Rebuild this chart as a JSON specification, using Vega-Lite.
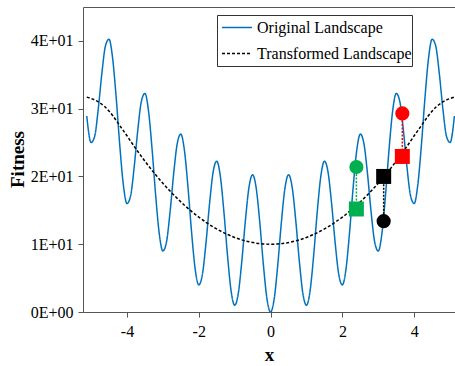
{
  "$schema": "https://vega.github.io/schema/vega-lite/v6.json",
  "width": 372,
  "height": 305,
  "autosize": "none",
  "padding": {"left": 83, "top": 7, "right": 0, "bottom": 54},
  "background": "white",
  "config": {
    "view": {"stroke": null},
    "font": "Liberation Serif",
    "axis": {
      "grid": false,
      "domainColor": "#555",
      "tickColor": "#555",
      "tickSize": 5,
      "labelFont": "Liberation Serif",
      "labelFontSize": 16,
      "labelColor": "black",
      "titleFont": "Liberation Serif",
      "titleFontSize": 19,
      "titleFontWeight": "bold",
      "titleColor": "black"
    },
    "legend": {
      "orient": "none",
      "legendX": 134,
      "legendY": 8,
      "strokeColor": "#333",
      "fillColor": "white",
      "padding": 0,
      "clipHeight": 25,
      "symbolOffset": 4,
      "symbolType": "stroke",
      "symbolSize": 900,
      "symbolStrokeWidth": 1.5,
      "labelFont": "Liberation Serif",
      "labelFontSize": 16,
      "labelColor": "black",
      "labelOffset": 4,
      "rowPadding": 1
    }
  },
  "resolve": {"axis": {"x": "independent"}},
  "datasets": {
    "lines": [
      {"x": -5.12, "y": 28.92, "series": "Original Landscape"},
      {"x": -5.1, "y": 27.92, "series": "Original Landscape"},
      {"x": -5.0, "y": 25, "series": "Original Landscape"},
      {"x": -4.9, "y": 25.92, "series": "Original Landscape"},
      {"x": -4.8, "y": 29.95, "series": "Original Landscape"},
      {"x": -4.7, "y": 35.18, "series": "Original Landscape"},
      {"x": -4.6, "y": 39.25, "series": "Original Landscape"},
      {"x": -4.5, "y": 40.25, "series": "Original Landscape"},
      {"x": -4.4, "y": 37.45, "series": "Original Landscape"},
      {"x": -4.3, "y": 31.58, "series": "Original Landscape"},
      {"x": -4.2, "y": 24.55, "series": "Original Landscape"},
      {"x": -4.1, "y": 18.72, "series": "Original Landscape"},
      {"x": -4.0, "y": 16, "series": "Original Landscape"},
      {"x": -3.9, "y": 17.12, "series": "Original Landscape"},
      {"x": -3.8, "y": 21.35, "series": "Original Landscape"},
      {"x": -3.7, "y": 26.78, "series": "Original Landscape"},
      {"x": -3.6, "y": 31.05, "series": "Original Landscape"},
      {"x": -3.5, "y": 32.25, "series": "Original Landscape"},
      {"x": -3.4, "y": 29.65, "series": "Original Landscape"},
      {"x": -3.3, "y": 23.98, "series": "Original Landscape"},
      {"x": -3.2, "y": 17.15, "series": "Original Landscape"},
      {"x": -3.1, "y": 11.52, "series": "Original Landscape"},
      {"x": -3.0, "y": 9, "series": "Original Landscape"},
      {"x": -2.9, "y": 10.32, "series": "Original Landscape"},
      {"x": -2.8, "y": 14.75, "series": "Original Landscape"},
      {"x": -2.7, "y": 20.38, "series": "Original Landscape"},
      {"x": -2.6, "y": 24.85, "series": "Original Landscape"},
      {"x": -2.5, "y": 26.25, "series": "Original Landscape"},
      {"x": -2.4, "y": 23.85, "series": "Original Landscape"},
      {"x": -2.3, "y": 18.38, "series": "Original Landscape"},
      {"x": -2.2, "y": 11.75, "series": "Original Landscape"},
      {"x": -2.1, "y": 6.32, "series": "Original Landscape"},
      {"x": -2.0, "y": 4, "series": "Original Landscape"},
      {"x": -1.9, "y": 5.52, "series": "Original Landscape"},
      {"x": -1.8, "y": 10.15, "series": "Original Landscape"},
      {"x": -1.7, "y": 15.98, "series": "Original Landscape"},
      {"x": -1.6, "y": 20.65, "series": "Original Landscape"},
      {"x": -1.5, "y": 22.25, "series": "Original Landscape"},
      {"x": -1.4, "y": 20.05, "series": "Original Landscape"},
      {"x": -1.3, "y": 14.78, "series": "Original Landscape"},
      {"x": -1.2, "y": 8.35, "series": "Original Landscape"},
      {"x": -1.1, "y": 3.12, "series": "Original Landscape"},
      {"x": -1.0, "y": 1, "series": "Original Landscape"},
      {"x": -0.9, "y": 2.72, "series": "Original Landscape"},
      {"x": -0.8, "y": 7.55, "series": "Original Landscape"},
      {"x": -0.7, "y": 13.58, "series": "Original Landscape"},
      {"x": -0.6, "y": 18.45, "series": "Original Landscape"},
      {"x": -0.5, "y": 20.25, "series": "Original Landscape"},
      {"x": -0.4, "y": 18.25, "series": "Original Landscape"},
      {"x": -0.3, "y": 13.18, "series": "Original Landscape"},
      {"x": -0.2, "y": 6.95, "series": "Original Landscape"},
      {"x": -0.1, "y": 1.92, "series": "Original Landscape"},
      {"x": 0.0, "y": 0, "series": "Original Landscape"},
      {"x": 0.1, "y": 1.92, "series": "Original Landscape"},
      {"x": 0.2, "y": 6.95, "series": "Original Landscape"},
      {"x": 0.3, "y": 13.18, "series": "Original Landscape"},
      {"x": 0.4, "y": 18.25, "series": "Original Landscape"},
      {"x": 0.5, "y": 20.25, "series": "Original Landscape"},
      {"x": 0.6, "y": 18.45, "series": "Original Landscape"},
      {"x": 0.7, "y": 13.58, "series": "Original Landscape"},
      {"x": 0.8, "y": 7.55, "series": "Original Landscape"},
      {"x": 0.9, "y": 2.72, "series": "Original Landscape"},
      {"x": 1.0, "y": 1, "series": "Original Landscape"},
      {"x": 1.1, "y": 3.12, "series": "Original Landscape"},
      {"x": 1.2, "y": 8.35, "series": "Original Landscape"},
      {"x": 1.3, "y": 14.78, "series": "Original Landscape"},
      {"x": 1.4, "y": 20.05, "series": "Original Landscape"},
      {"x": 1.5, "y": 22.25, "series": "Original Landscape"},
      {"x": 1.6, "y": 20.65, "series": "Original Landscape"},
      {"x": 1.7, "y": 15.98, "series": "Original Landscape"},
      {"x": 1.8, "y": 10.15, "series": "Original Landscape"},
      {"x": 1.9, "y": 5.52, "series": "Original Landscape"},
      {"x": 2.0, "y": 4, "series": "Original Landscape"},
      {"x": 2.1, "y": 6.32, "series": "Original Landscape"},
      {"x": 2.2, "y": 11.75, "series": "Original Landscape"},
      {"x": 2.3, "y": 18.38, "series": "Original Landscape"},
      {"x": 2.4, "y": 23.85, "series": "Original Landscape"},
      {"x": 2.5, "y": 26.25, "series": "Original Landscape"},
      {"x": 2.6, "y": 24.85, "series": "Original Landscape"},
      {"x": 2.7, "y": 20.38, "series": "Original Landscape"},
      {"x": 2.8, "y": 14.75, "series": "Original Landscape"},
      {"x": 2.9, "y": 10.32, "series": "Original Landscape"},
      {"x": 3.0, "y": 9, "series": "Original Landscape"},
      {"x": 3.1, "y": 11.52, "series": "Original Landscape"},
      {"x": 3.2, "y": 17.15, "series": "Original Landscape"},
      {"x": 3.3, "y": 23.98, "series": "Original Landscape"},
      {"x": 3.4, "y": 29.65, "series": "Original Landscape"},
      {"x": 3.5, "y": 32.25, "series": "Original Landscape"},
      {"x": 3.6, "y": 31.05, "series": "Original Landscape"},
      {"x": 3.7, "y": 26.78, "series": "Original Landscape"},
      {"x": 3.8, "y": 21.35, "series": "Original Landscape"},
      {"x": 3.9, "y": 17.12, "series": "Original Landscape"},
      {"x": 4.0, "y": 16, "series": "Original Landscape"},
      {"x": 4.1, "y": 18.72, "series": "Original Landscape"},
      {"x": 4.2, "y": 24.55, "series": "Original Landscape"},
      {"x": 4.3, "y": 31.58, "series": "Original Landscape"},
      {"x": 4.4, "y": 37.45, "series": "Original Landscape"},
      {"x": 4.5, "y": 40.25, "series": "Original Landscape"},
      {"x": 4.6, "y": 39.25, "series": "Original Landscape"},
      {"x": 4.7, "y": 35.18, "series": "Original Landscape"},
      {"x": 4.8, "y": 29.95, "series": "Original Landscape"},
      {"x": 4.9, "y": 25.92, "series": "Original Landscape"},
      {"x": 5.0, "y": 25, "series": "Original Landscape"},
      {"x": 5.1, "y": 27.92, "series": "Original Landscape"},
      {"x": 5.12, "y": 28.92, "series": "Original Landscape"},
      {"x": -5.12, "y": 31.7, "series": "Transformed Landscape"},
      {"x": -5.0, "y": 31.5, "series": "Transformed Landscape"},
      {"x": -4.8, "y": 31.0, "series": "Transformed Landscape"},
      {"x": -4.6, "y": 30.2, "series": "Transformed Landscape"},
      {"x": -4.4, "y": 29.0, "series": "Transformed Landscape"},
      {"x": -4.2, "y": 27.5, "series": "Transformed Landscape"},
      {"x": -4.0, "y": 26.0, "series": "Transformed Landscape"},
      {"x": -3.8, "y": 24.44, "series": "Transformed Landscape"},
      {"x": -3.6, "y": 22.96, "series": "Transformed Landscape"},
      {"x": -3.4, "y": 21.56, "series": "Transformed Landscape"},
      {"x": -3.2, "y": 20.24, "series": "Transformed Landscape"},
      {"x": -3.0, "y": 19.0, "series": "Transformed Landscape"},
      {"x": -2.8, "y": 17.84, "series": "Transformed Landscape"},
      {"x": -2.6, "y": 16.76, "series": "Transformed Landscape"},
      {"x": -2.4, "y": 15.76, "series": "Transformed Landscape"},
      {"x": -2.2, "y": 14.84, "series": "Transformed Landscape"},
      {"x": -2.0, "y": 14.0, "series": "Transformed Landscape"},
      {"x": -1.8, "y": 13.24, "series": "Transformed Landscape"},
      {"x": -1.6, "y": 12.56, "series": "Transformed Landscape"},
      {"x": -1.4, "y": 11.96, "series": "Transformed Landscape"},
      {"x": -1.2, "y": 11.44, "series": "Transformed Landscape"},
      {"x": -1.0, "y": 11.0, "series": "Transformed Landscape"},
      {"x": -0.8, "y": 10.64, "series": "Transformed Landscape"},
      {"x": -0.6, "y": 10.36, "series": "Transformed Landscape"},
      {"x": -0.4, "y": 10.16, "series": "Transformed Landscape"},
      {"x": -0.2, "y": 10.04, "series": "Transformed Landscape"},
      {"x": 0.0, "y": 10.0, "series": "Transformed Landscape"},
      {"x": 0.2, "y": 10.04, "series": "Transformed Landscape"},
      {"x": 0.4, "y": 10.16, "series": "Transformed Landscape"},
      {"x": 0.6, "y": 10.36, "series": "Transformed Landscape"},
      {"x": 0.8, "y": 10.64, "series": "Transformed Landscape"},
      {"x": 1.0, "y": 11.0, "series": "Transformed Landscape"},
      {"x": 1.2, "y": 11.44, "series": "Transformed Landscape"},
      {"x": 1.4, "y": 11.96, "series": "Transformed Landscape"},
      {"x": 1.6, "y": 12.56, "series": "Transformed Landscape"},
      {"x": 1.8, "y": 13.24, "series": "Transformed Landscape"},
      {"x": 2.0, "y": 14.0, "series": "Transformed Landscape"},
      {"x": 2.2, "y": 14.84, "series": "Transformed Landscape"},
      {"x": 2.4, "y": 15.76, "series": "Transformed Landscape"},
      {"x": 2.6, "y": 16.76, "series": "Transformed Landscape"},
      {"x": 2.8, "y": 17.84, "series": "Transformed Landscape"},
      {"x": 3.0, "y": 19.0, "series": "Transformed Landscape"},
      {"x": 3.2, "y": 20.24, "series": "Transformed Landscape"},
      {"x": 3.4, "y": 21.56, "series": "Transformed Landscape"},
      {"x": 3.6, "y": 22.96, "series": "Transformed Landscape"},
      {"x": 3.8, "y": 24.44, "series": "Transformed Landscape"},
      {"x": 4.0, "y": 26.0, "series": "Transformed Landscape"},
      {"x": 4.2, "y": 27.5, "series": "Transformed Landscape"},
      {"x": 4.4, "y": 29.0, "series": "Transformed Landscape"},
      {"x": 4.6, "y": 30.2, "series": "Transformed Landscape"},
      {"x": 4.8, "y": 31.0, "series": "Transformed Landscape"},
      {"x": 5.0, "y": 31.5, "series": "Transformed Landscape"},
      {"x": 5.12, "y": 31.7, "series": "Transformed Landscape"}
    ],
    "pairs": [
      {"x": 2.39, "circle": 21.4, "square": 15.2, "c": "#00B050"},
      {"x": 3.15, "circle": 13.4, "square": 20.0, "c": "#000000"},
      {"x": 3.67, "circle": 29.3, "square": 22.95, "c": "#FF0000"}
    ]
  },
  "layer": [
    {
      "data": {"name": "lines"},
      "mark": {"type": "line", "strokeWidth": 1.5, "interpolate": "monotone", "clip": true},
      "encoding": {
        "x": {
          "field": "x", "type": "quantitative",
          "scale": {"domain": [-5.225, 5.137], "nice": false, "zero": false},
          "axis": {"values": [-4, -2, 0, 2, 4], "labelExpr": "'' + datum.value", "title": "x", "labelPadding": 6, "titleY": 42, "titleBaseline": "middle"}
        },
        "y": {
          "field": "y", "type": "quantitative",
          "scale": {"domain": [0, 45], "nice": false},
          "axis": {"values": [0, 10, 20, 30, 40], "labelExpr": "datum.value == 0 ? '0E+00' : (datum.value / 10) + 'E+01'", "title": "Fitness", "labelPadding": 5, "titleX": -66, "titleY": 152, "titleAngle": -90, "titleBaseline": "middle", "titleAlign": "center"}
        },
        "color": {
          "field": "series", "type": "nominal",
          "scale": {"domain": ["Original Landscape", "Transformed Landscape"], "range": ["#0072BD", "#000000"]},
          "legend": {"title": null}
        },
        "strokeDash": {
          "field": "series", "type": "nominal",
          "scale": {"domain": ["Original Landscape", "Transformed Landscape"], "range": [[1, 0], [3, 2]]},
          "legend": {"title": null}
        }
      }
    },
    {
      "data": {"name": "pairs"},
      "mark": {"type": "rule", "strokeWidth": 1.5, "strokeDash": [2, 1.5]},
      "encoding": {
        "x": {"field": "x", "type": "quantitative", "axis": {"orient": "top", "labels": false, "ticks": false, "title": null}},
        "y": {"field": "circle", "type": "quantitative"},
        "y2": {"field": "square"},
        "color": {"field": "c", "type": "nominal", "scale": null, "legend": null}
      }
    },
    {
      "data": {"name": "pairs"},
      "mark": {"type": "point", "shape": "square", "filled": true, "opacity": 1, "size": 225},
      "encoding": {
        "x": {"field": "x", "type": "quantitative", "axis": null},
        "y": {"field": "square", "type": "quantitative"},
        "color": {"field": "c", "type": "nominal", "scale": null, "legend": null}
      }
    },
    {
      "data": {"name": "pairs"},
      "mark": {"type": "point", "shape": "circle", "filled": true, "opacity": 1, "size": 200},
      "encoding": {
        "x": {"field": "x", "type": "quantitative", "axis": null},
        "y": {"field": "circle", "type": "quantitative"},
        "color": {"field": "c", "type": "nominal", "scale": null, "legend": null}
      }
    }
  ]
}
